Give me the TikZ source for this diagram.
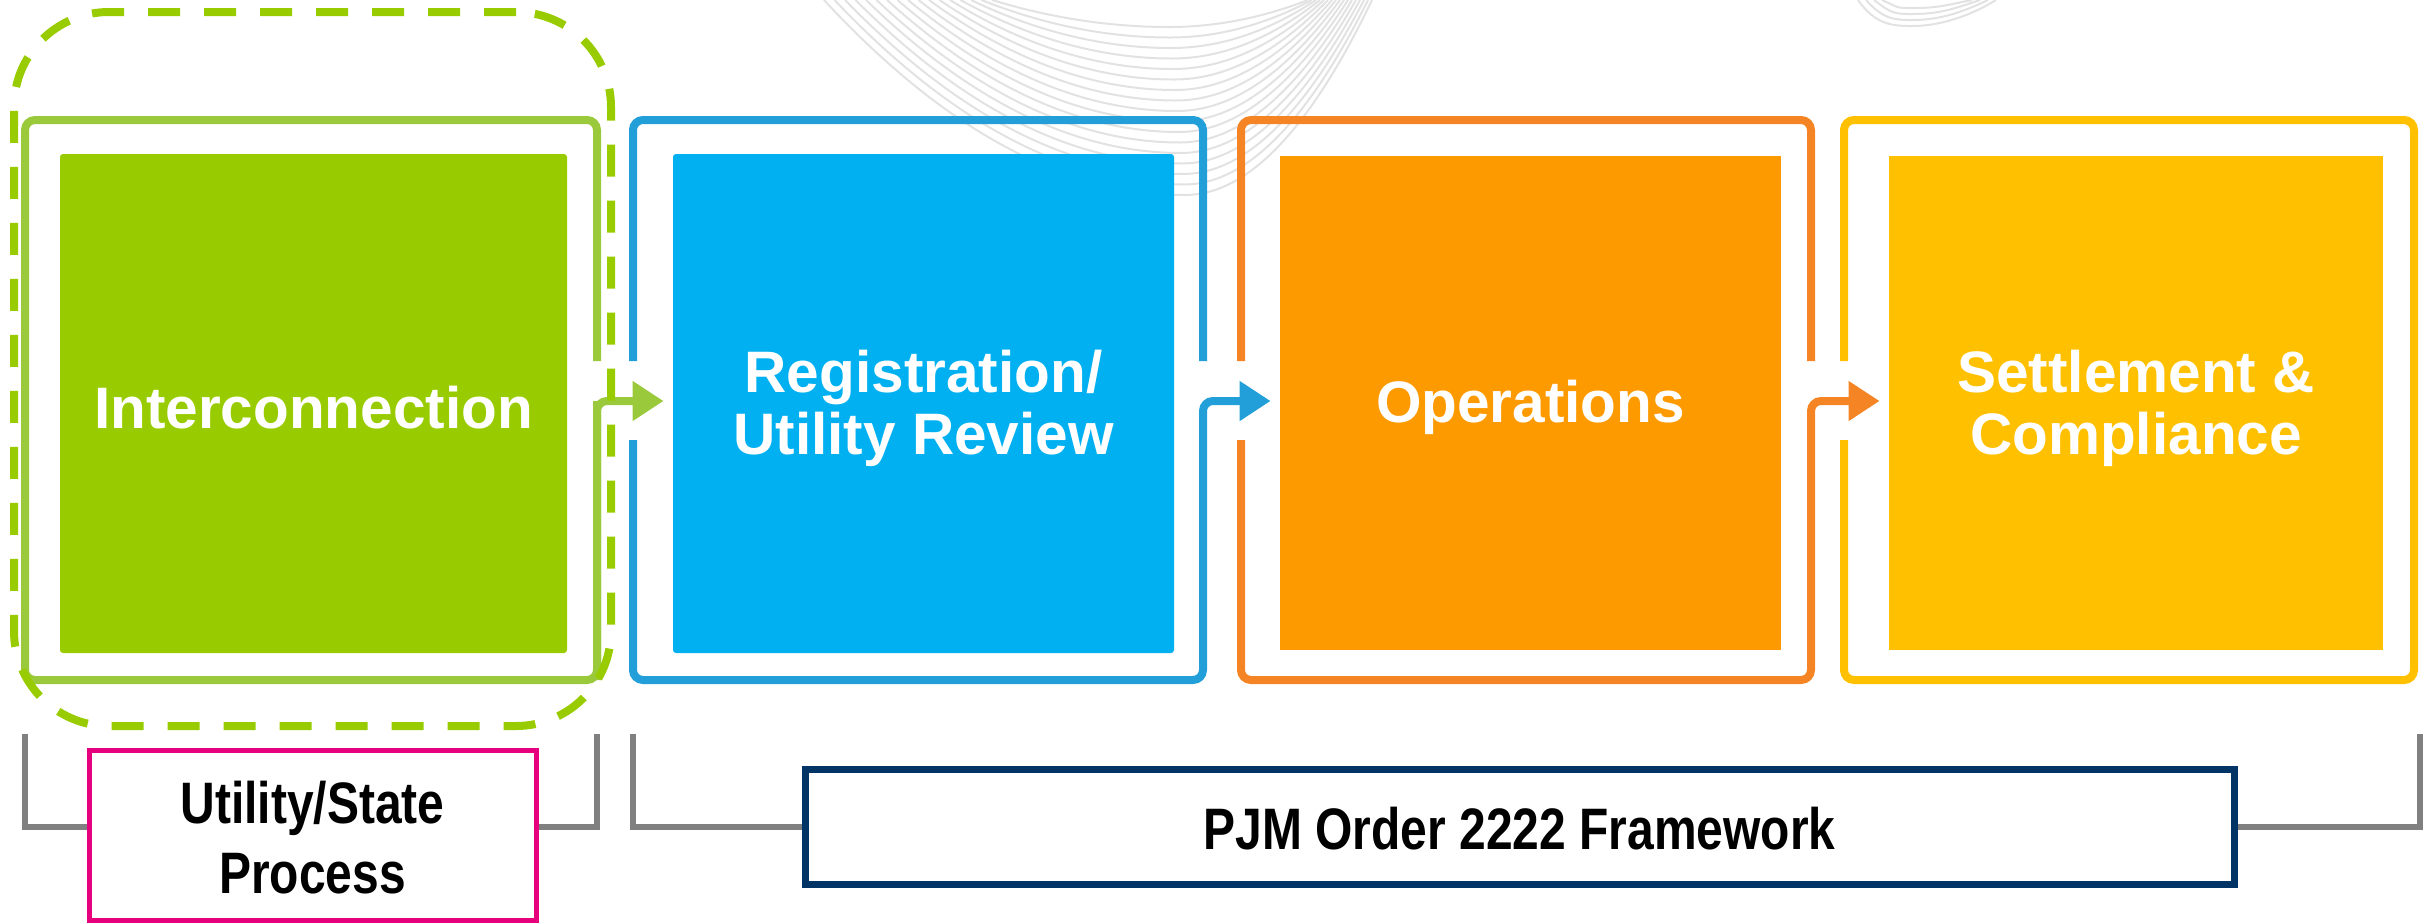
\documentclass[tikz,border=0pt]{standalone}
\usepackage{fontspec}
\setmainfont{Liberation Sans}
\newfontfamily\narrowfont[FakeStretch=0.82]{Liberation Sans}
\usetikzlibrary{arrows.meta,calc}
\definecolor{cGf}{RGB}{154,202,60}
\definecolor{cGfill}{RGB}{153,204,0}
\definecolor{cBf}{RGB}{34,159,217}
\definecolor{cBfill}{RGB}{0,176,240}
\definecolor{cOf}{RGB}{245,132,36}
\definecolor{cOfill}{RGB}{253,154,0}
\definecolor{cYf}{RGB}{255,192,0}
\definecolor{cYfill}{RGB}{255,192,0}
\definecolor{cDash}{RGB}{153,204,0}
\definecolor{cPink}{RGB}{230,0,126}
\definecolor{cNavy}{RGB}{0,51,102}
\definecolor{cBrk}{RGB}{128,128,128}
\definecolor{cWave}{RGB}{226,226,226}
\newcommand\mylbl{\bfseries\fontsize{29.25}{31}\selectfont}
\newcommand\mynarrow{\narrowfont\bfseries\fontsize{29.25}{35}\selectfont}
\begin{document}
\begin{tikzpicture}[x=0.5pt,y=-0.5pt,
  fillbox/.style={rectangle, inner sep=0pt, rounded corners=1.5pt},
  lbltext/.style={inner sep=0pt, text=white, font=\mylbl, align=center},
  framebox/.style={rectangle, inner sep=0pt, outer sep=0pt, minimum width=285pt, minimum height=280pt},
  frameline/.style={line width=4pt, rounded corners=5pt},
  arrowend/.style={-{Triangle[length=15.5pt,width=19pt]}, shorten >=4.5pt},
  bracket/.style={draw=cBrk, line width=3pt},
  wave/.style={draw=cWave, line width=1pt}]
\useasboundingbox (0,0) rectangle (2433,923);

% faint background waves
\foreach \i in {0,...,16} {
  \pgfmathsetmacro\cL{824+10.5*\i}
  \pgfmathsetmacro\cM{1185-\i}
  \pgfmathsetmacro\cD{195-10.5*\i}
  \pgfmathsetmacro\cR{1372-4*\i}
  \draw[wave] (\cL,0) .. controls ({\cL+(\cM-\cL)/3},{2*\cD/3}) and ({\cM-(\cM-\cL)/3},\cD) .. (\cM,\cD)
    .. controls ({\cM+(\cR-\cM)/3},\cD) and ({\cR-(\cR-\cM)/3},{2*\cD/3}) .. (\cR,0);
}
\foreach \i in {0,...,3} {
  \pgfmathsetmacro\cL{1858+8*\i}
  \pgfmathsetmacro\cD{26-6*\i}
  \pgfmathsetmacro\cR{1996-8*\i}
  \draw[wave] (\cL,0) .. controls ({\cL+18},{\cD}) and (1895,\cD) .. (1913,\cD)
    .. controls (1940,\cD) and ({\cR-25},{\cD*0.6}) .. (\cR,0);
}

% inner coloured boxes
\node[fillbox, fill=cGfill, minimum width=253.5pt, minimum height=249.5pt] (n1) at (313.5,403.5) {};
\node[fillbox, fill=cBfill, minimum width=250.5pt, minimum height=249.5pt] (n2) at (923.5,403.5) {};
\node[fillbox, fill=cOfill, rounded corners=0pt, minimum width=250.5pt, minimum height=247pt] (n3) at (1530.5,403) {};
\node[fillbox, fill=cYfill, rounded corners=0pt, minimum width=247pt, minimum height=247pt] (n4) at (2136,403) {};

\node[lbltext] (t1) at ([yshift=-2pt]n1.center) {Interconnection};
\node[lbltext] (t2) at ([yshift=-2.5pt]n2.center) {Registration/\\Utility Review};
\node[lbltext] (t3) at ([yshift=-2pt]n3.center) {Operations};
\node[lbltext] (t4) at ([yshift=-2.5pt]n4.center) {Settlement \&\\Compliance};

% invisible frame nodes
\node[framebox, minimum width=286pt] (f1) at (311,400) {};
\node[framebox] (f2) at (918,400) {};
\node[framebox] (f3) at (1526,400) {};
\node[framebox] (f4) at (2129,400) {};

\coordinate (gapT) at (0,361);
\coordinate (arrY) at (0,401);
\coordinate (gapB) at (0,440);

% frames with arrows
\draw[frameline, draw=cGf] (f1.east |- gapT) -- (f1.north east) -- (f1.north west) -- (f1.south west) -- (f1.south east) -- (f1.east |- arrY);
\draw[frameline, draw=cGf, arrowend] (f1.south east) -- (f1.east |- arrY) -- (n2.west |- arrY);

\draw[frameline, draw=cBf] (f2.west |- gapT) -- (f2.north west) -- (f2.north east) -- (f2.east |- gapT);
\draw[frameline, draw=cBf, arrowend] (f2.west |- gapB) -- (f2.south west) -- (f2.south east) -- (f2.east |- arrY) -- (n3.west |- arrY);

\draw[frameline, draw=cOf] (f3.west |- gapT) -- (f3.north west) -- (f3.north east) -- (f3.east |- gapT);
\draw[frameline, draw=cOf, arrowend] (f3.west |- gapB) -- (f3.south west) -- (f3.south east) -- (f3.east |- arrY) -- (n4.west |- arrY);

\draw[frameline, draw=cYf] (f4.west |- gapT) -- (f4.north west) -- (f4.north east) -- (f4.south east) -- (f4.south west) -- (f4.west |- gapB);

% dashed group outline
\node[draw=cDash, line width=4pt, dash pattern=on 16pt off 12pt, rounded corners=47.5pt,
      minimum width=298.5pt, minimum height=357pt, inner sep=0pt] (grp) at (312.5,369) {};

% bottom labels
\node[draw=cPink, line width=2.5pt, minimum width=223.5pt, minimum height=85pt, inner sep=0pt] (ups) at (312.5,835) {};
\node[inner sep=0pt, font=\mynarrow, align=center] (upstext) at ([yshift=-1.5pt]ups.center) {Utility/State\\Process};
\node[draw=cNavy, line width=3.5pt, minimum width=714.5pt, minimum height=57.5pt, inner sep=0pt] (pjm) at (1519.5,826.5) {};
\node[inner sep=0pt, font=\mynarrow] (pjmtext) at ([yshift=-1.2pt]pjm.center) {PJM Order 2222 Framework};

\coordinate (brT) at (0,734);
\coordinate (brB) at (0,827);
\draw[bracket] (f1.west |- brT) -- (f1.west |- brB) -- (ups.west |- brB);
\draw[bracket] (ups.east |- brB) -- (f1.east |- brB) -- (f1.east |- brT);
\draw[bracket] (f2.west |- brT) -- (f2.west |- brB) -- (pjm.west |- brB);
\draw[bracket] (pjm.east |- brB) -- ([xshift=3pt]f4.east |- brB) -- ([xshift=3pt]f4.east |- brT);
\end{tikzpicture}
\end{document}
